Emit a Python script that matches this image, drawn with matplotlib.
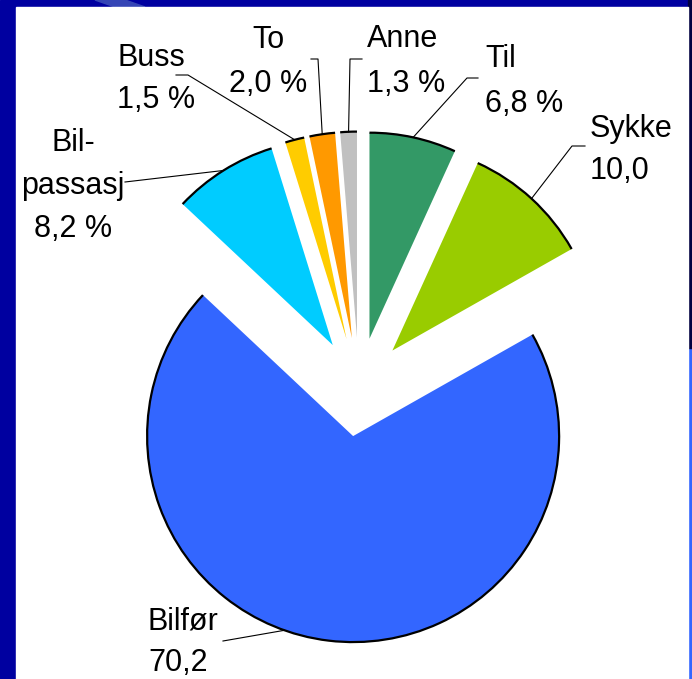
"""Exploded pie: travel mode shares (Excel style slide)."""
import numpy as np
import matplotlib.pyplot as plt
from matplotlib.patches import Arc, Polygon, Rectangle

W, H = 692, 679

# data, clockwise from 12 o'clock
categories = ["Til", "Sykke", "Bilfør", "Bil-\npassasj", "Buss", "To", "Anne"]
shares = [6.8, 10.0, 70.2, 8.2, 1.5, 2.0, 1.3]
show_pct = [True, False, False, True, True, True, True]
colors = ["#339966", "#99cc00", "#3366ff", "#00ccff", "#ffcc00", "#ff9900", "#c0c0c0"]

# label layout in pixel coords (x, first baseline y, ha)
label_pos = [(485, 67, "left"), (590, 137, "left"), (148, 630, "left"),
             (73, 151, "center"), (117, 66, "left"), (268, 48, "center"),
             (367, 47, "left")]
# leader line start points (text side), pixel coords
leader_pts = [[(478, 78), (467, 78)], [(585, 146), (572, 146)], [(223, 641)],
              [(125, 182)], [(176, 75), (188, 75)], [(311, 59), (318, 59)],
              [(362, 59), (350, 59)]]
anchor_frac = [0.5, 0.5, 0.45, 0.5, 0.5, 0.5, 0.5]
LINE_PITCH = [45, 42, 41, 43, 42, 44, 45]
RADIUS = 206
FONT = ["Liberation Sans", "DejaVu Sans"]


def px(x, y):
    return x, H - y


fig = plt.figure(figsize=(W / 100, H / 100), dpi=100)
ax = fig.add_axes([0, 0, 1, 1])

# slide frame
ax.add_patch(Rectangle((0, 0), W, H, color="#0000a0", zorder=0))
ax.add_patch(Rectangle((688, 0), 4, H - 348, color="#3366ff", zorder=0.5))
ax.add_patch(Rectangle((688, H - 348), 4, 348, color="#000040", zorder=0.5))
ax.add_patch(Polygon([px(95, 0), px(125, 0), px(145, 7), px(115, 7)],
                     color="#3545b5", zorder=0.5))
ax.add_patch(Rectangle(px(16, H), 672, H - 7, color="white", zorder=1))

# explode is in data units when radius != 1
wedges, _ = ax.pie(shares, colors=colors, startangle=90, counterclock=False,
                   explode=[0.24 * RADIUS] * len(shares), radius=RADIUS,
                   center=px(359, 387), wedgeprops=dict(linewidth=0))

for i, w in enumerate(wedges):
    w.set_zorder(2)
    cx, cy = w.center
    ax.add_patch(Arc((cx, cy), 2 * w.r, 2 * w.r, theta1=w.theta1, theta2=w.theta2,
                     color="black", lw=1.6, zorder=3))
    # leader line to outer arc
    ang = np.deg2rad(w.theta1 + anchor_frac[i] * (w.theta2 - w.theta1))
    end = (cx + w.r * np.cos(ang), cy + w.r * np.sin(ang))
    pts = [px(*p) for p in leader_pts[i]] + [end]
    xs, ys = zip(*pts)
    ax.plot(xs, ys, color="black", lw=0.8, zorder=3)

    # label text
    val = f"{shares[i]:.1f}".replace(".", ",") + (" %" if show_pct[i] else "")
    lines = categories[i].split("\n") + [val]
    x0, y0, ha = label_pos[i]
    for k, line in enumerate(lines):
        ax.text(*px(x0, y0 + k * LINE_PITCH[i]), line, ha=ha, va="baseline",
                fontsize=22, family=FONT, color="black", zorder=4)

ax.set_xlim(0, W)
ax.set_ylim(0, H)
ax.set_aspect("equal")
ax.axis("off")
fig.savefig("out.png", dpi=100)
